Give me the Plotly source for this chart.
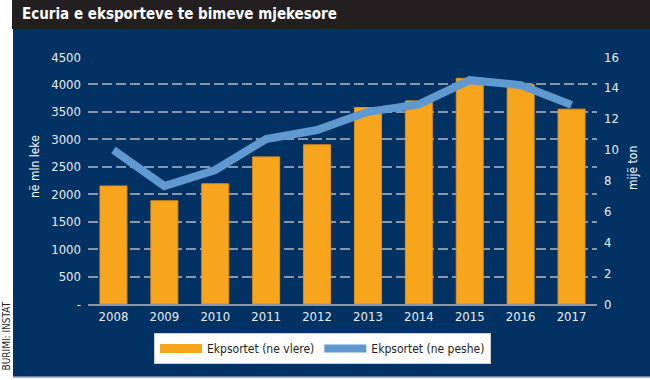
import plotly.graph_objects as go

years = ["2008", "2009", "2010", "2011", "2012", "2013", "2014", "2015", "2016", "2017"]
value_mln_leke = [2150, 1880, 2190, 2680, 2900, 3580, 3700, 4110, 4000, 3550]
weight_thou_ton = [9.97, 7.64, 8.68, 10.69, 11.27, 12.45, 12.93, 14.5, 14.18, 12.9]
left_ticks = [0, 500, 1000, 1500, 2000, 2500, 3000, 3500, 4000, 4500]
left_ticktext = ["-", "500", "1000", "1500", "2000", "2500", "3000", "3500", "4000", "4500"]
right_ticks = [0, 2, 4, 6, 8, 10, 12, 14, 16]

FONT = "DejaVu Sans Condensed, Liberation Sans Narrow, sans-serif"
BLUE_BG = "#013263"
ORANGE = "#f7a51c"
LINE_BLUE = "#6099cf"
GRID = "#8796ab"
TXT = "#e9edf3"

W, H = 650, 380
L, R, T, B = 88, 53, 57, 76
PW, PH = W - L - R, H - T - B


def px(x):
    return (x - L) / PW


def py(y):
    return (H - B - y) / PH


fig = go.Figure()
fig.add_trace(go.Bar(
    x=years, y=value_mln_leke, name="Ekpsortet (ne vlere)",
    marker=dict(color=ORANGE, line=dict(color="#e0901a", width=1)),
    showlegend=False, yaxis="y",
))
fig.add_trace(go.Scatter(
    x=years, y=weight_thou_ton, name="Ekpsortet (ne peshe)", mode="lines",
    line=dict(color=LINE_BLUE, width=8), yaxis="y2", showlegend=False,
))
# legend entries
fig.add_trace(go.Scatter(x=[None], y=[None], mode="lines", name="Ekpsortet (ne vlere)",
                         line=dict(color=ORANGE, width=9), yaxis="y"))
fig.add_trace(go.Scatter(x=[None], y=[None], mode="lines", name="Ekpsortet (ne peshe)",
                         line=dict(color=LINE_BLUE, width=8), yaxis="y2"))

shapes = [
    dict(type="rect", xref="paper", yref="paper", x0=px(13), x1=px(650), y0=py(377), y1=py(29),
         fillcolor=BLUE_BG, line=dict(width=0), layer="below"),
    dict(type="rect", xref="paper", yref="paper", x0=px(12), x1=px(650), y0=py(29), y1=py(0),
         fillcolor="#231f20", line=dict(width=0), layer="below"),
    dict(type="line", xref="paper", yref="paper", x0=px(13), x1=px(650), y0=py(377), y1=py(377),
         line=dict(color="#8aa0bc", width=1.5), layer="below"),
]

annotations = [
    dict(text="Ecuria e eksporteve te bimeve mjekesore", xref="paper", yref="paper",
         x=px(20), y=py(14), xanchor="left", yanchor="middle", showarrow=False,
         font=dict(family=FONT, size=15, color="white", weight="bold")),
    dict(text="në mln leke", xref="paper", yref="paper", x=px(35), y=py(167),
         xanchor="center", yanchor="middle", textangle=-90, showarrow=False,
         font=dict(family=FONT, size=12, color="white")),
    dict(text="mijë ton", xref="paper", yref="paper", x=px(633), y=py(168),
         xanchor="center", yanchor="middle", textangle=-90, showarrow=False,
         font=dict(family=FONT, size=12, color="white")),
    dict(text="BURIMI: INSTAT", xref="paper", yref="paper", x=px(6), y=py(373),
         xanchor="center", yanchor="bottom", textangle=-90, showarrow=False,
         font=dict(family=FONT, size=10, color="#231f20")),
]

fig.update_layout(
    width=W, height=H,
    margin=dict(l=L, r=R, t=T, b=B, pad=0),
    paper_bgcolor="white", plot_bgcolor="rgba(0,0,0,0)",
    font=dict(family=FONT, size=13, color=TXT),
    bargap=0.47,
    shapes=shapes, annotations=annotations,
    xaxis=dict(type="category", showgrid=False, showline=True, linecolor=GRID, linewidth=1.5,
               ticks="", tickfont=dict(size=13, color=TXT), range=[-0.5, 9.5]),
    yaxis=dict(range=[0, 4500], tickvals=left_ticks, ticktext=left_ticktext, showgrid=True,
               gridcolor=GRID, gridwidth=1.5, griddash="10px,4px", zeroline=False, ticks="",
               ticklabelstandoff=6, tickfont=dict(size=13, color=TXT), showline=False),
    yaxis2=dict(range=[0, 16], tickvals=right_ticks, overlaying="y", side="right", showgrid=False,
                zeroline=False, ticks="", ticklabelstandoff=6, tickfont=dict(size=13, color=TXT)),
    legend=dict(orientation="h", x=px(154), y=py(333), xanchor="left", yanchor="top",
                bgcolor="white", bordercolor="#cccccc", borderwidth=1,
                font=dict(family=FONT, size=12, color="#231f20"), itemwidth=42,
                traceorder="normal"),
)

fig.write_html("out.html", config={"displayModeBar": False},
               post_script="document.body.style.margin='0';document.body.style.overflow='hidden';")
